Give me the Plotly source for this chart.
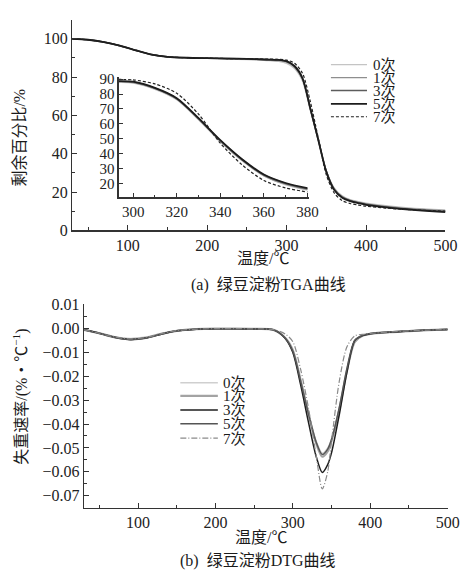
import plotly.graph_objects as go

W, H = 475, 583
SERIES = ["0次", "1次", "3次", "5次", "7次"]

# ---------------- TGA (main) ----------------
TGA_X = [30, 50, 70, 90, 110, 130, 150, 175, 200, 225, 250, 275, 290, 300, 310,
         320, 330, 340, 350, 360, 370, 380, 390, 400, 425, 450, 475, 500]
TGA_0 = [100, 99.5, 98.2, 96.3, 93.9, 91.7, 90.5, 90.0, 89.8, 89.5, 89.2, 88.7, 88.2, 87.2, 84.5,
         78.0, 62.5, 46.5, 31.0, 22.0, 18.0, 16.0, 15.0, 14.2, 12.8, 11.8, 11.1, 10.6]
TGA_1 = [100, 99.5, 98.3, 96.4, 94.0, 91.8, 90.6, 90.1, 89.9, 89.7, 89.4, 88.9, 88.6, 87.8, 85.2,
         79.0, 63.0, 47.0, 31.0, 21.8, 17.6, 15.7, 14.7, 13.8, 12.4, 11.4, 10.8, 10.3]
TGA_3 = [100, 99.5, 98.3, 96.4, 94.0, 91.8, 90.6, 90.1, 89.9, 89.7, 89.5, 89.1, 88.9, 88.1, 85.6,
         79.3, 63.3, 47.3, 31.0, 21.4, 17.3, 15.5, 14.4, 13.6, 12.2, 11.2, 10.5, 9.9]
TGA_5 = [100, 99.5, 98.3, 96.4, 94.0, 91.8, 90.6, 90.1, 89.9, 89.7, 89.5, 89.2, 89.0, 88.3, 85.8,
         79.5, 63.5, 47.0, 30.5, 21.0, 17.0, 15.2, 14.2, 13.3, 12.0, 11.0, 10.2, 9.5]
TGA_7 = [100, 99.5, 98.3, 96.4, 94.0, 91.8, 90.6, 90.1, 89.9, 89.7, 89.6, 89.4, 89.3, 88.9, 87.2,
         82.0, 67.0, 48.0, 29.0, 19.5, 15.5, 14.0, 13.2, 12.6, 11.6, 10.9, 10.4, 10.0]

# ---------------- TGA (inset) ----------------
INS_X = [293, 300, 310, 320, 330, 340, 350, 360, 370, 380]
INS_0 = [87.8, 87.4, 83.2, 76.2, 62.8, 48.0, 35.2, 25.0, 19.0, 15.5]
INS_1 = [88.2, 87.8, 83.6, 76.6, 63.2, 48.4, 35.6, 25.3, 19.5, 16.0]
INS_3 = [88.5, 88.1, 83.9, 76.9, 63.5, 48.8, 36.0, 25.7, 20.0, 16.4]
INS_5 = [88.7, 88.3, 84.1, 77.2, 63.8, 49.1, 36.3, 26.0, 20.3, 16.9]
INS_7 = [89.8, 89.5, 86.8, 80.5, 66.5, 47.0, 32.5, 22.0, 17.0, 14.3]

# ---------------- DTG ----------------
DTG_X = [30, 50, 70, 90, 110, 130, 150, 175, 200, 225, 250, 275, 290, 300, 310, 320, 330,
         338, 345, 350, 360, 370, 380, 390, 400, 425, 450, 475, 500]
DTG_0 = [-0.0005, -0.0018, -0.0034, -0.0041, -0.0035, -0.0020, -0.0008, -0.0002, 0.0, 0.0, -0.0001, -0.0005,
         -0.0040, -0.0092, -0.0215, -0.0350, -0.0470, -0.0522, -0.0500, -0.0460, -0.0335, -0.0175, -0.0055,
         -0.0030, -0.0022, -0.0015, -0.0010, -0.0006, -0.0003]
DTG_1 = [-0.0005, -0.0019, -0.0036, -0.0044, -0.0038, -0.0022, -0.0009, -0.0002, 0.0, 0.0, -0.0001, -0.0005,
         -0.0038, -0.0090, -0.0215, -0.0355, -0.0480, -0.0537, -0.0515, -0.0470, -0.0340, -0.0175, -0.0055,
         -0.0030, -0.0022, -0.0015, -0.0010, -0.0006, -0.0003]
DTG_3 = [-0.0005, -0.0019, -0.0036, -0.0045, -0.0039, -0.0023, -0.0009, -0.0002, 0.0, 0.0, -0.0001, -0.0005,
         -0.0040, -0.0100, -0.0235, -0.0390, -0.0535, -0.0603, -0.0570, -0.0520, -0.0360, -0.0180, -0.0050,
         -0.0029, -0.0021, -0.0015, -0.0010, -0.0006, -0.0003]
DTG_5 = [-0.0005, -0.0020, -0.0037, -0.0046, -0.0040, -0.0023, -0.0009, -0.0002, 0.0, 0.0, -0.0001, -0.0005,
         -0.0040, -0.0095, -0.0220, -0.0355, -0.0475, -0.0528, -0.0505, -0.0465, -0.0330, -0.0165, -0.0048,
         -0.0028, -0.0020, -0.0014, -0.0009, -0.0006, -0.0003]
DTG_7 = [-0.0005, -0.0019, -0.0035, -0.0043, -0.0037, -0.0021, -0.0008, -0.0002, 0.0, 0.0, -0.0001, -0.0004,
         -0.0022, -0.0055, -0.0170, -0.0330, -0.0530, -0.0672, -0.0600, -0.0470, -0.0220, -0.0075, -0.0030,
         -0.0024, -0.0020, -0.0014, -0.0009, -0.0006, -0.0003]

TGA_Y = [TGA_0, TGA_1, TGA_3, TGA_5, TGA_7]
INS_Y = [INS_0, INS_1, INS_3, INS_5, INS_7]
DTG_Y = [DTG_0, DTG_1, DTG_3, DTG_5, DTG_7]

# ---------------- styles ----------------
TGA_STYLE = [dict(color="#c4c4c4", width=1.4),
             dict(color="#8e8e8e", width=1.4),
             dict(color="#5c5c5c", width=1.4),
             dict(color="#1c1c1c", width=1.8),
             dict(color="#222222", width=1.2, dash="3px,2px")]
DTG_STYLE = [dict(color="#cfcfcf", width=1.4),
             dict(color="#a3a3a3", width=2.2),
             dict(color="#1e1e1e", width=1.5),
             dict(color="#555555", width=1.5),
             dict(color="#8a8a8a", width=1.2, dash="6px,2px,1px,2px")]

FONT = "Liberation Serif, Times New Roman, Times, serif"
CJK = "Noto Sans CJK SC"


def px(x):
    return x / W


def py(y):
    return 1 - y / H


fig = go.Figure()
for i, name in enumerate(SERIES):
    fig.add_trace(go.Scatter(x=TGA_X, y=TGA_Y[i], mode="lines", name=name,
                             line=dict(shape="spline", smoothing=0.8, **TGA_STYLE[i]),
                             xaxis="x", yaxis="y", showlegend=False, hoverinfo="skip"))
for i, name in enumerate(SERIES):
    fig.add_trace(go.Scatter(x=INS_X, y=INS_Y[i], mode="lines", name=name,
                             line=dict(shape="spline", smoothing=0.8, **TGA_STYLE[i]),
                             xaxis="x3", yaxis="y3", showlegend=False, hoverinfo="skip"))
for i, name in enumerate(SERIES):
    fig.add_trace(go.Scatter(x=DTG_X, y=DTG_Y[i], mode="lines", name=name,
                             line=dict(shape="spline", smoothing=0.8, **DTG_STYLE[i]),
                             xaxis="x2", yaxis="y2", showlegend=False, hoverinfo="skip"))

axis_common = dict(showgrid=False, zeroline=False, showline=True, linecolor="#333333",
                   linewidth=1.2, ticks="inside", ticklen=5, tickwidth=1, tickcolor="#333333",
                   mirror=False, tickfont=dict(family=FONT, size=16, color="#222222"))
minor_common = dict(ticks="inside", ticklen=3, tickwidth=1, tickcolor="#333333", showgrid=False)

fig.update_layout(
    width=W, height=H, margin=dict(l=0, r=0, t=0, b=0),
    paper_bgcolor="white", plot_bgcolor="rgba(0,0,0,0)", showlegend=False,
    font=dict(family=FONT),
    xaxis=dict(domain=[px(74), px(457)], range=[30, 500], anchor="y", dtick=100, tick0=0,
               minor=dict(dtick=50, **minor_common), **axis_common),
    yaxis=dict(domain=[py(229), py(12)], range=[0, 110], anchor="x", dtick=20, tick0=0,
               minor=dict(dtick=10, **minor_common), **axis_common),
    xaxis2=dict(domain=[px(86), px(459.3)], range=[30, 500], anchor="y2", dtick=100, tick0=0,
                minor=dict(dtick=50, **minor_common), **axis_common),
    yaxis2=dict(domain=[py(515), py(305)], range=[-0.0752, 0.0103], anchor="x2", dtick=0.01,
                tick0=0, tickformat=".2f", minor=dict(dtick=0.005, **minor_common), **axis_common),
)
inset_axis = dict(axis_common)
inset_axis["tickfont"] = dict(family=FONT, size=15, color="#222222")
inset_axis["ticklen"] = 4
fig.update_layout(
    xaxis3=dict(domain=[px(121.7), px(316.5)], range=[293.3, 380.5], anchor="y3", dtick=20,
                tick0=300, minor=dict(dtick=10, ticks="inside", ticklen=2, tickwidth=1,
                                      tickcolor="#333333", showgrid=False),
                **inset_axis),
    yaxis3=dict(domain=[py(195), py(71)], range=[10.7, 91.5], anchor="x3", dtick=10, tick0=0,
                **inset_axis),
)

annotations = []
shapes = []


def label(text, x, y, size=17, angle=0, family=CJK, xanchor="center"):
    annotations.append(dict(text=text, x=px(x), y=py(y), xref="paper", yref="paper",
                            showarrow=False, textangle=angle, xanchor=xanchor, yanchor="middle",
                            font=dict(family=family, size=size, color="#1a1a1a")))


TXT = "Liberation Serif, Noto Sans CJK SC, serif"
label("剩余百分比/%", 20, 133, size=16, angle=-90, family=TXT)
label("温度/℃", 270, 258, size=16, family=TXT)
label("(a)  绿豆淀粉TGA曲线", 275, 285, size=16, family=TXT)
label("失重速率/(%・℃<sup>−1</sup>)", 21, 400, size=16, angle=-90, family=TXT)
label("温度/℃", 268, 545, size=16, family=TXT)
label("(b)  绿豆淀粉DTG曲线", 265, 570, size=16, family=TXT)

# legends (drawn manually to reproduce the tight spacing)
top_rows = [58.3, 71.7, 85.0, 98.7, 112.0]
for i, name in enumerate(SERIES):
    st = TGA_STYLE[i]
    shapes.append(dict(type="line", xref="paper", yref="paper", x0=px(339.5), x1=px(376.5),
                       y0=py(top_rows[i]), y1=py(top_rows[i]),
                       line=dict(color=st["color"], width=st["width"], dash=st.get("dash", "solid"))))
    label(name, 380.5, top_rows[i] + 0.5, size=15, family=TXT, xanchor="left")

bot_rows = [386.0, 399.5, 414.0, 428.3, 443.0]
for i, name in enumerate(SERIES):
    st = DTG_STYLE[i]
    shapes.append(dict(type="line", xref="paper", yref="paper", x0=px(185), x1=px(223.5),
                       y0=py(bot_rows[i]), y1=py(bot_rows[i]),
                       line=dict(color=st["color"], width=st["width"], dash=st.get("dash", "solid"))))
    label(name, 226.5, bot_rows[i] + 0.5, size=15, family=TXT, xanchor="left")

fig.update_layout(annotations=annotations, shapes=shapes)
fig.write_html("out.html", config={"displayModeBar": False, "staticPlot": True},
               post_script="document.body.style.margin='0px';document.body.style.overflow='hidden';")
